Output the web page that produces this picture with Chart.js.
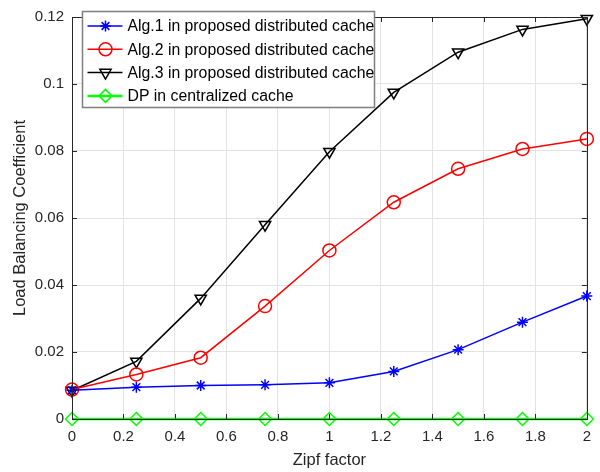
<!DOCTYPE html>
<html>
<head>
<meta charset="utf-8">
<script src="https://cdn.jsdelivr.net/npm/chart.js@4/dist/chart.umd.min.js"></script>
<style>
  html, body { margin: 0; padding: 0; background: #fff; }
  #wrap { width: 600px; height: 472px; }
</style>
</head>
<body>
<div id="wrap"><canvas id="lbChart" width="600" height="472"></canvas></div>
<script>
// Load balancing coefficient vs Zipf factor
const zipfFactor = [0, 0.25, 0.5, 0.75, 1, 1.25, 1.5, 1.75, 2];
const alg1Values = [0.0086, 0.0095, 0.0100, 0.0102, 0.0108, 0.0142, 0.0207, 0.0289, 0.0367];
const alg2Values = [0.0088, 0.0133, 0.0183, 0.0337, 0.0503, 0.0647, 0.0747, 0.0806, 0.0836];
const alg3Values = [0.0085, 0.0172, 0.0360, 0.0580, 0.0798, 0.0975, 0.1095, 0.1163, 0.1195];
const dpValues = [0, 0, 0, 0, 0, 0, 0, 0, 0];
const seriesLabels = [
  'Alg.1 in proposed distributed cache',
  'Alg.2 in proposed distributed cache',
  'Alg.3 in proposed distributed cache',
  'DP in centralized cache'
];
const xTicks = [0, 0.2, 0.4, 0.6, 0.8, 1, 1.2, 1.4, 1.6, 1.8, 2];
const yTicks = [0, 0.02, 0.04, 0.06, 0.08, 0.1, 0.12];

const FONT = 'Liberation Sans, Arial, Helvetica, sans-serif';
const AXIS_COLOR = '#262626';

function toPoints(values) {
  return zipfFactor.map((x, i) => ({ x: x, y: values[i] }));
}

function makeSeries(label, values, color, style, rotation, width) {
  return {
    label: label,
    data: toPoints(values),
    borderColor: color,
    backgroundColor: 'rgba(0,0,0,0)',
    borderWidth: width,
    pointStyle: style,
    pointRotation: rotation,
    pointRadius: style === 'star' ? 5.5 : 6.5,
    pointBorderColor: color,
    pointBackgroundColor: 'rgba(0,0,0,0)',
    pointBorderWidth: 1.5,
    tension: 0,
    clip: false
  };
}

// box round the axes plus inward ticks on all sides, MATLAB style
const boxPlugin = {
  id: 'axesBox',
  afterDatasetsDraw(chart) {
    const ctx = chart.ctx;
    const a = chart.chartArea;
    const xs = chart.scales.x;
    const ys = chart.scales.y;
    ctx.save();
    ctx.strokeStyle = AXIS_COLOR;
    ctx.lineWidth = 1;
    ctx.beginPath();
    xTicks.forEach(v => {
      const px = Math.round(xs.getPixelForValue(v)) + 0.5;
      ctx.moveTo(px, a.bottom); ctx.lineTo(px, a.bottom - 5);
      ctx.moveTo(px, a.top); ctx.lineTo(px, a.top + 5);
    });
    yTicks.forEach(v => {
      const py = Math.round(ys.getPixelForValue(v)) + 0.5;
      ctx.moveTo(a.left, py); ctx.lineTo(a.left + 5, py);
      ctx.moveTo(a.right, py); ctx.lineTo(a.right - 5, py);
    });
    ctx.stroke();
    ctx.strokeRect(Math.round(a.left) + 0.5, Math.round(a.top) + 0.5,
      Math.round(a.right - a.left), Math.round(a.bottom - a.top));
    ctx.restore();
  }
};

// legend drawn inside the plot, upper left
const insideLegend = {
  id: 'insideLegend',
  afterDraw(chart) {
    const ctx = chart.ctx;
    const a = chart.chartArea;
    const x0 = a.left + 10.5;
    const y0 = 11.5;
    const w = 292;
    const h = 96;
    ctx.save();
    ctx.fillStyle = '#fff';
    ctx.fillRect(x0, y0, w, h);
    ctx.strokeStyle = '#7f7f7f';
    ctx.lineWidth = 1.5;
    ctx.strokeRect(x0, y0, w, h);
    ctx.font = '15.8px ' + FONT;
    ctx.textBaseline = 'middle';
    chart.data.datasets.forEach((ds, i) => {
      const y = y0 + 14.5 + i * 23.3;
      ctx.strokeStyle = ds.borderColor;
      ctx.lineWidth = ds.borderWidth;
      ctx.beginPath();
      ctx.moveTo(x0 + 5, y);
      ctx.lineTo(x0 + 40, y);
      ctx.stroke();
      ctx.lineWidth = ds.pointBorderWidth;
      ctx.fillStyle = 'rgba(0,0,0,0)';
      Chart.helpers.drawPoint(ctx, {
        pointStyle: ds.pointStyle,
        rotation: ds.pointRotation,
        radius: ds.pointRadius,
        borderWidth: ds.pointBorderWidth
      }, x0 + 23, y);
      ctx.fillStyle = '#000';
      ctx.fillText(ds.label, x0 + 45, y + 1);
    });
    ctx.restore();
  }
};

const lbChart = new Chart(document.getElementById('lbChart').getContext('2d'), {
  type: 'line',
  data: {
    datasets: [
      makeSeries(seriesLabels[0], alg1Values, '#0000ff', 'star', 0, 1.5),
      makeSeries(seriesLabels[1], alg2Values, '#ff0000', 'circle', 0, 1.5),
      makeSeries(seriesLabels[2], alg3Values, '#000000', 'triangle', 180, 1.5),
      makeSeries(seriesLabels[3], dpValues, '#00ff00', 'rectRot', 0, 2.5)
    ]
  },
  options: {
    responsive: false,
    animation: false,
    layout: { padding: { top: 13, right: 11, left: 0, bottom: 0 } },
    plugins: {
      legend: { display: false },
      tooltip: { enabled: false }
    },
    scales: {
      x: {
        type: 'linear',
        min: 0,
        max: 2,
        afterBuildTicks: s => { s.ticks = xTicks.map(v => ({ value: v })); },
        afterFit: s => { s.height = 53; },
        grid: { color: '#e3e3e3', drawTicks: false, lineWidth: 1 },
        border: { display: false },
        ticks: {
          color: AXIS_COLOR,
          padding: 9,
          maxRotation: 0,
          autoSkip: false,
          font: { family: FONT, size: 15 },
          callback: v => String(+v.toFixed(2))
        },
        title: {
          display: true,
          text: 'Zipf factor',
          color: AXIS_COLOR,
          font: { family: FONT, size: 16.5 },
          padding: { top: 0, bottom: 2 }
        }
      },
      y: {
        type: 'linear',
        min: 0,
        max: 0.12,
        afterBuildTicks: s => { s.ticks = yTicks.map(v => ({ value: v })); },
        afterFit: s => { s.width = 72; },
        grid: { color: '#e3e3e3', drawTicks: false, lineWidth: 1 },
        border: { display: false },
        ticks: {
          color: AXIS_COLOR,
          padding: 8,
          autoSkip: false,
          font: { family: FONT, size: 15 },
          callback: v => String(+v.toFixed(2))
        },
        title: {
          display: true,
          text: 'Load Balancing Coefficient',
          color: AXIS_COLOR,
          font: { family: FONT, size: 16.5 },
          padding: { top: 11, bottom: 0 }
        }
      }
    }
  },
  plugins: [boxPlugin, insideLegend]
});
</script>
</body>
</html>
